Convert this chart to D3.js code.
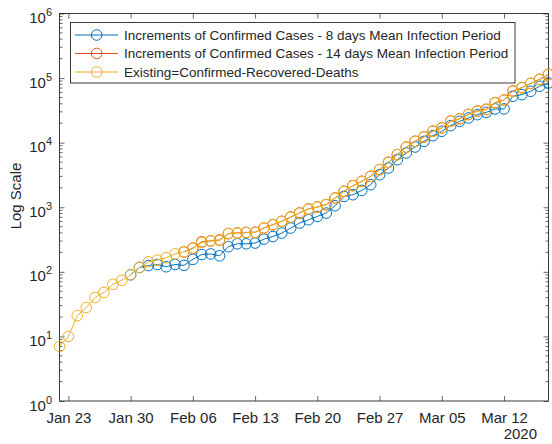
<!DOCTYPE html>
<html><head><meta charset="utf-8">
<script src="https://cdn.jsdelivr.net/npm/d3@7"></script>
<style>html,body{margin:0;padding:0;background:#fff;}svg{display:block;font-family:"Liberation Sans",Arial,Helvetica,sans-serif;}</style>
</head><body><svg id="c" width="552" height="444"></svg>
<script>
const dates = ["2020-01-22","2020-01-23","2020-01-24","2020-01-25","2020-01-26","2020-01-27","2020-01-28","2020-01-29","2020-01-30","2020-01-31",
"2020-02-01","2020-02-02","2020-02-03","2020-02-04","2020-02-05","2020-02-06","2020-02-07","2020-02-08","2020-02-09","2020-02-10",
"2020-02-11","2020-02-12","2020-02-13","2020-02-14","2020-02-15","2020-02-16","2020-02-17","2020-02-18","2020-02-19","2020-02-20",
"2020-02-21","2020-02-22","2020-02-23","2020-02-24","2020-02-25","2020-02-26","2020-02-27","2020-02-28","2020-02-29",
"2020-03-01","2020-03-02","2020-03-03","2020-03-04","2020-03-05","2020-03-06","2020-03-07","2020-03-08","2020-03-09","2020-03-10",
"2020-03-11","2020-03-12","2020-03-13","2020-03-14","2020-03-15","2020-03-16","2020-03-17"];

// Existing = Confirmed - Recovered - Deaths (Jan 22 .. Mar 17)
const existing = [7,10,21,28,40,48,64,74,90,117,
143,152,165,190,205,230,285,300,305,390,
398,405,407,476,535,603,700,813,937,1007,
1094,1388,1760,2154,2512,3003,3813,4950,6516,
8500,10480,12250,15000,16870,21400,23300,27150,30600,32500,
41200,45300,62500,70500,82200,94800,113000];

// Increments, 8 days mean infection period (Jan 30 .. Mar 17)
const inc8 = [null,null,null,null,null,null,null,null,
90,117,
125,130,120,130,126,156,185,189,177,245,
272,272,279,321,352,398,476,569,640,720,
813,1055,1470,1563,1822,2233,3190,4050,5450,
6920,8570,10470,12850,15000,18350,21400,24150,27150,29500,
33300,33300,52200,55500,62500,74600,84200];

// Increments, 14 days mean infection period (Feb 05 .. Mar 17)
const inc14 = [null,null,null,null,null,null,null,null,null,null,
null,null,null,null,
203,233,292,302,312,392,
400,408,410,478,537,606,706,816,940,1010,
1098,1392,1765,2160,2520,3015,3830,4970,6540,
8540,10520,12300,15080,16950,21550,23450,27400,30900,32900,
41700,45800,63200,71200,83000,95800,114500];

const seriesNames = ["Increments of Confirmed Cases - 8 days Mean Infection Period",
  "Increments of Confirmed Cases - 14 days Mean Infection Period",
  "Existing=Confirmed-Recovered-Deaths"];
const seriesColors = ["#0072BD","#D95319","#EDB120"];
const seriesValues = [inc8, inc14, existing];

const xTickDates = ["2020-01-23","2020-01-30","2020-02-06","2020-02-13","2020-02-20","2020-02-27","2020-03-05","2020-03-12"];
const xTickLabels = ["Jan 23","Jan 30","Feb 06","Feb 13","Feb 20","Feb 27","Mar 05","Mar 12"];
const yTickExps = [0,1,2,3,4,5,6];
const yLabel = "Log Scale";
const yearLabel = "2020";

const parse = d3.timeParse("%Y-%m-%d");
const L = 59.5, R = 548.5, T = 13.5, B = 401;
const ink = "#262626";
const svg = d3.select("#c");

const x = d3.scaleTime().domain([parse(dates[0]), parse(dates[dates.length-1])]).range([L, R]);
const y = d3.scaleLog().domain([1, 1e6]).range([B, T]);

// minor ticks on y
const ax = svg.append("g");
const minors = [];
for (let e = 0; e < 6; e++) for (let m = 2; m <= 9; m++) minors.push(m * Math.pow(10, e));
ax.selectAll("line.minl").data(minors).join("line")
  .attr("x1", L).attr("x2", L + 3).attr("y1", d => y(d)).attr("y2", d => y(d))
  .attr("stroke", ink).attr("stroke-width", 0.7);
ax.selectAll("line.minr").data(minors).join("line")
  .attr("x1", R).attr("x2", R - 3).attr("y1", d => y(d)).attr("y2", d => y(d))
  .attr("stroke", ink).attr("stroke-width", 0.7);

const xTicks = xTickDates.map(parse);
const xAxis = d3.axisBottom(x).tickValues(xTicks)
  .tickFormat((d, i) => xTickLabels[i]).tickSizeInner(-5).tickSizeOuter(0).tickPadding(11.5);
const gx = svg.append("g").attr("transform", `translate(0,${B})`).call(xAxis);
gx.select(".domain").remove();
gx.selectAll("line").attr("stroke", ink).attr("stroke-width", 0.7);
gx.selectAll("text").attr("fill", ink).attr("font-size", 15).attr("font-family", "Liberation Sans, Arial, sans-serif");

const gxt = svg.append("g").attr("transform", `translate(0,${T})`)
  .call(d3.axisTop(x).tickValues(xTicks).tickFormat("").tickSizeInner(-5).tickSizeOuter(0));
gxt.select(".domain").remove();
gxt.selectAll("line").attr("stroke", ink).attr("stroke-width", 0.7);

const yTicks = yTickExps.map(e => Math.pow(10, e));
const gy = svg.append("g").attr("transform", `translate(${L},0)`)
  .call(d3.axisLeft(y).tickValues(yTicks).tickFormat(d => "").tickSizeInner(-5).tickSizeOuter(0).tickPadding(8));
gy.select(".domain").remove();
gy.selectAll("line").attr("stroke", ink).attr("stroke-width", 0.7);
gy.selectAll(".tick text").each(function(d, i) {
  const t = d3.select(this).attr("fill", ink).attr("font-size", 15).attr("dy", null)
    .attr("y", 9).attr("x", -7.5);
  t.append("tspan").text("10");
  t.append("tspan").attr("dy", -7).attr("font-size", 11).text(String(yTickExps[i]));
});
const gyr = svg.append("g").attr("transform", `translate(${R},0)`)
  .call(d3.axisRight(y).tickValues(yTicks).tickFormat("").tickSizeInner(-5).tickSizeOuter(0));
gyr.select(".domain").remove();
gyr.selectAll("line").attr("stroke", ink).attr("stroke-width", 0.7);

svg.append("rect").attr("x", L).attr("y", T).attr("width", R - L).attr("height", B - T)
  .attr("fill", "none").attr("stroke", ink).attr("stroke-width", 0.9);

// labels
svg.append("text").attr("transform", `translate(21,196) rotate(-90)`)
  .attr("text-anchor", "middle").attr("font-size", 15).attr("fill", ink).text(yLabel);
svg.append("text").attr("x", 537).attr("y", 439).attr("text-anchor", "end")
  .attr("font-size", 15).attr("fill", ink).text(yearLabel);

// data
const defs = svg.append("defs");
defs.append("clipPath").attr("id", "clip").append("rect")
  .attr("x", L).attr("y", T).attr("width", R - L).attr("height", B - T);

seriesValues.forEach((vals, si) => {
  const pts = dates.map((d, i) => ({ t: parse(d), v: vals[i] })).filter(p => p.v != null);
  const g = svg.append("g");
  g.append("path").datum(pts)
    .attr("d", d3.line().x(p => x(p.t)).y(p => y(p.v)))
    .attr("fill", "none").attr("stroke", seriesColors[si]).attr("stroke-width", 1)
    .attr("clip-path", "url(#clip)");
  g.selectAll("circle").data(pts).join("circle")
    .attr("cx", p => x(p.t)).attr("cy", p => y(p.v)).attr("r", 5.3)
    .attr("fill", "none").attr("stroke", seriesColors[si]).attr("stroke-width", 1);
});

// legend
const lg = svg.append("g");
lg.append("rect").attr("x", 70.5).attr("y", 22.5).attr("width", 444.5).attr("height", 60.5)
  .attr("fill", "#fff").attr("stroke", ink).attr("stroke-width", 0.9);
seriesNames.forEach((name, i) => {
  const yy = 35 + i * 18.5;
  lg.append("line").attr("x1", 75).attr("x2", 118).attr("y1", yy).attr("y2", yy)
    .attr("stroke", seriesColors[i]).attr("stroke-width", 1);
  lg.append("circle").attr("cx", 96.7).attr("cy", yy).attr("r", 5.3)
    .attr("fill", "none").attr("stroke", seriesColors[i]).attr("stroke-width", 1);
  lg.append("text").attr("x", 124).attr("y", yy).attr("dy", "0.35em")
    .attr("font-size", 13.5).attr("fill", ink).text(name);
});
</script></body></html>
